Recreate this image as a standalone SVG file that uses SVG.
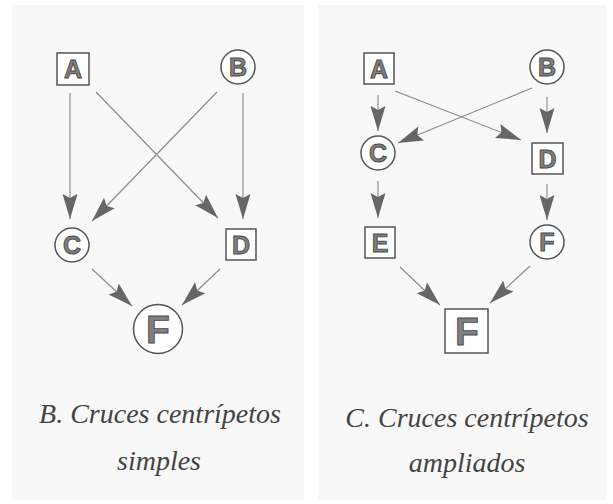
<svg xmlns="http://www.w3.org/2000/svg" width="613" height="504" viewBox="0 0 613 504">
  <defs>
    <marker id="ah" markerUnits="userSpaceOnUse" markerWidth="26" markerHeight="16" refX="25" refY="7.5" orient="auto">
      <path d="M0,0 L25,7.5 L0,15 L4,7.5 z" fill="#666"/>
    </marker>
    <style>
      .panel { fill: #f8f8f8; }
      .box, .circ { fill: #fff; stroke: #555; stroke-width: 1.5; }
      .lbl { font-family: "Liberation Sans", Arial, sans-serif; font-weight: bold; fill: #7f7f7f; stroke: #4a4a4a; stroke-width: 0.9; text-anchor: middle; }
      .edge { stroke: #888; stroke-width: 1.1; fill: none; marker-end: url(#ah); }
      .cap { font-family: "Liberation Serif", "Times New Roman", serif; font-style: italic; font-size: 28px; fill: #444; text-anchor: middle; }
    </style>
  </defs>
  <rect x="0" y="0" width="613" height="504" fill="#fff"/>
  <rect class="panel" x="12" y="5" width="292" height="495"/>
  <rect class="panel" x="318" y="5" width="288" height="495"/>

  <g id="connectors">
    <!-- left panel -->
    <line class="edge" x1="70" y1="93" x2="70" y2="219"/>
    <line class="edge" x1="96" y1="92" x2="218" y2="218"/>
    <line class="edge" x1="217" y1="92" x2="92" y2="221"/>
    <line class="edge" x1="243" y1="93" x2="243" y2="219"/>
    <line class="edge" x1="92" y1="269" x2="132" y2="306"/>
    <line class="edge" x1="220" y1="269" x2="182" y2="305"/>
    <!-- right panel -->
    <line class="edge" x1="378" y1="95" x2="378" y2="131"/>
    <line class="edge" x1="395" y1="91" x2="521" y2="140"/>
    <line class="edge" x1="532" y1="88" x2="398" y2="143"/>
    <line class="edge" x1="547" y1="97" x2="547" y2="133"/>
    <line class="edge" x1="378" y1="181" x2="378" y2="218"/>
    <line class="edge" x1="547" y1="184" x2="547" y2="220"/>
    <line class="edge" x1="400" y1="267" x2="440" y2="305"/>
    <line class="edge" x1="530" y1="266" x2="490" y2="303"/>
  </g>

  <!-- left panel nodes -->
  <g id="B-A">
    <rect class="box" x="57" y="53" width="32" height="32"/>
    <text class="lbl" x="73" y="78" font-size="25">A</text>
  </g>
  <g id="B-B">
    <circle class="circ" cx="238" cy="67" r="17"/>
    <text class="lbl" x="238" y="76" font-size="25">B</text>
  </g>
  <g id="B-C">
    <circle class="circ" cx="72" cy="245" r="17"/>
    <text class="lbl" x="72" y="254" font-size="25">C</text>
  </g>
  <g id="B-D">
    <rect class="box" x="226" y="229" width="30" height="31"/>
    <text class="lbl" x="241" y="253.5" font-size="25">D</text>
  </g>
  <g id="B-F">
    <circle class="circ" cx="158" cy="329" r="24.5"/>
    <text class="lbl" x="158" y="343" font-size="39">F</text>
  </g>

  <!-- right panel nodes -->
  <g id="C-A">
    <rect class="box" x="364" y="53" width="30" height="31"/>
    <text class="lbl" x="379" y="77.5" font-size="25">A</text>
  </g>
  <g id="C-B">
    <circle class="circ" cx="547" cy="67" r="17"/>
    <text class="lbl" x="547" y="76" font-size="25">B</text>
  </g>
  <g id="C-C">
    <circle class="circ" cx="378" cy="153" r="17"/>
    <text class="lbl" x="378" y="162" font-size="25">C</text>
  </g>
  <g id="C-D">
    <rect class="box" x="532" y="143" width="31" height="31"/>
    <text class="lbl" x="547.5" y="167.5" font-size="25">D</text>
  </g>
  <g id="C-E">
    <rect class="box" x="365" y="227" width="30" height="31"/>
    <text class="lbl" x="380" y="251.5" font-size="25">E</text>
  </g>
  <g id="C-F1">
    <circle class="circ" cx="547" cy="242" r="17"/>
    <text class="lbl" x="547" y="251" font-size="25">F</text>
  </g>
  <g id="C-F2">
    <rect class="box" x="445" y="309" width="43" height="44"/>
    <text class="lbl" x="467" y="345" font-size="39">F</text>
  </g>

  <text class="cap" x="160" y="423">B. Cruces centrípetos</text>
  <text class="cap" x="159" y="470">simples</text>
  <text class="cap" x="467" y="427">C. Cruces centrípetos</text>
  <text class="cap" x="467" y="472">ampliados</text>
</svg>
